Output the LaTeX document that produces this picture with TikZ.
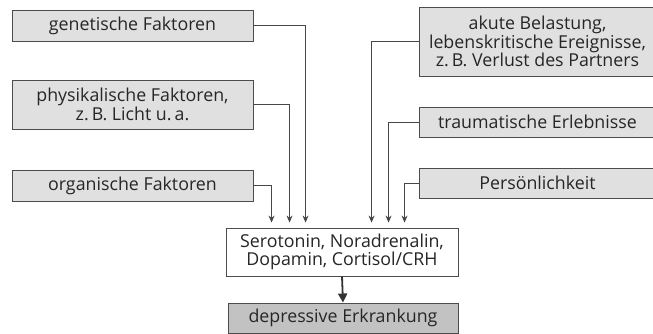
\documentclass[tikz,border=0pt]{standalone}
\usepackage{fontspec}
\setmainfont{Open Sans}
\usetikzlibrary{arrows.meta,calc}
\tikzset{
  factor/.style={draw=black!70, fill=black!12, line width=0.9pt, text=black!85,
    align=center, inner sep=0pt, font=\fontsize{17.8}{17.3}\selectfont},
  link/.style={draw=black!72, line width=0.9pt, -{Stealth[length=7pt,width=6pt]}, shorten >=5pt},
}

\begin{document}
\begin{tikzpicture}[x=1pt,y=-1pt]
			%%%%% START %%%%%
			\useasboundingbox (0,0) rectangle (653,334);
			
			% left factors
			\node[factor, minimum width=241pt, minimum height=31pt] (gen) at (132.5,25.5) {genetische Faktoren};
			\node[factor, minimum width=241pt, minimum height=49pt] (phys) at (132.5,104.5) {physikalische Faktoren,\\z.\,B. Licht u.\,a.};
			\node[factor, minimum width=241pt, minimum height=31pt] (org) at (132.5,185.5) {organische Faktoren};
			
			% right factors
			\node[factor, minimum width=237pt, minimum height=69pt] (akut) at (537.5,41.5) {akute Belastung,\\lebenskritische Ereignisse,\\z.\,B. Verlust des Partners};
			\node[factor, minimum width=237pt, minimum height=30pt] (trauma) at (537.5,122) {traumatische Erlebnisse};
			\node[factor, minimum width=237pt, minimum height=30pt] (pers) at (537.5,183) {Persönlichkeit};
			
			% middle
			\node[factor, fill=white, minimum width=232pt, minimum height=48pt] (mid) at (342,252) {Serotonin, Noradrenalin,\\Dopamin, Cortisol/CRH};
			\node[factor, fill=black!24, minimum width=230pt, minimum height=30pt] (dep) at (343,318) {depressive Erkrankung};
			
			\draw[link] (org.east) -| ($(mid.north west)+(46,0)$);
			\draw[link] (phys.east) -| ($(mid.north west)+(64,0)$);
			\draw[link] (gen.east) -| ($(mid.north west)+(80,0)$);
			\draw[link] (akut.west) -| ($(mid.north west)+(146,0)$);
			\draw[link] (trauma.west) -| ($(mid.north west)+(163,0)$);
			\draw[link] (pers.west) -| ($(mid.north west)+(179,0)$);
			
			\draw[draw=black!80, line width=1.8pt, -{Triangle[length=9pt,width=9pt]}] (mid.south) -- (dep.north);
			%%%%% END %%%%%
\end{tikzpicture}
\end{document}
